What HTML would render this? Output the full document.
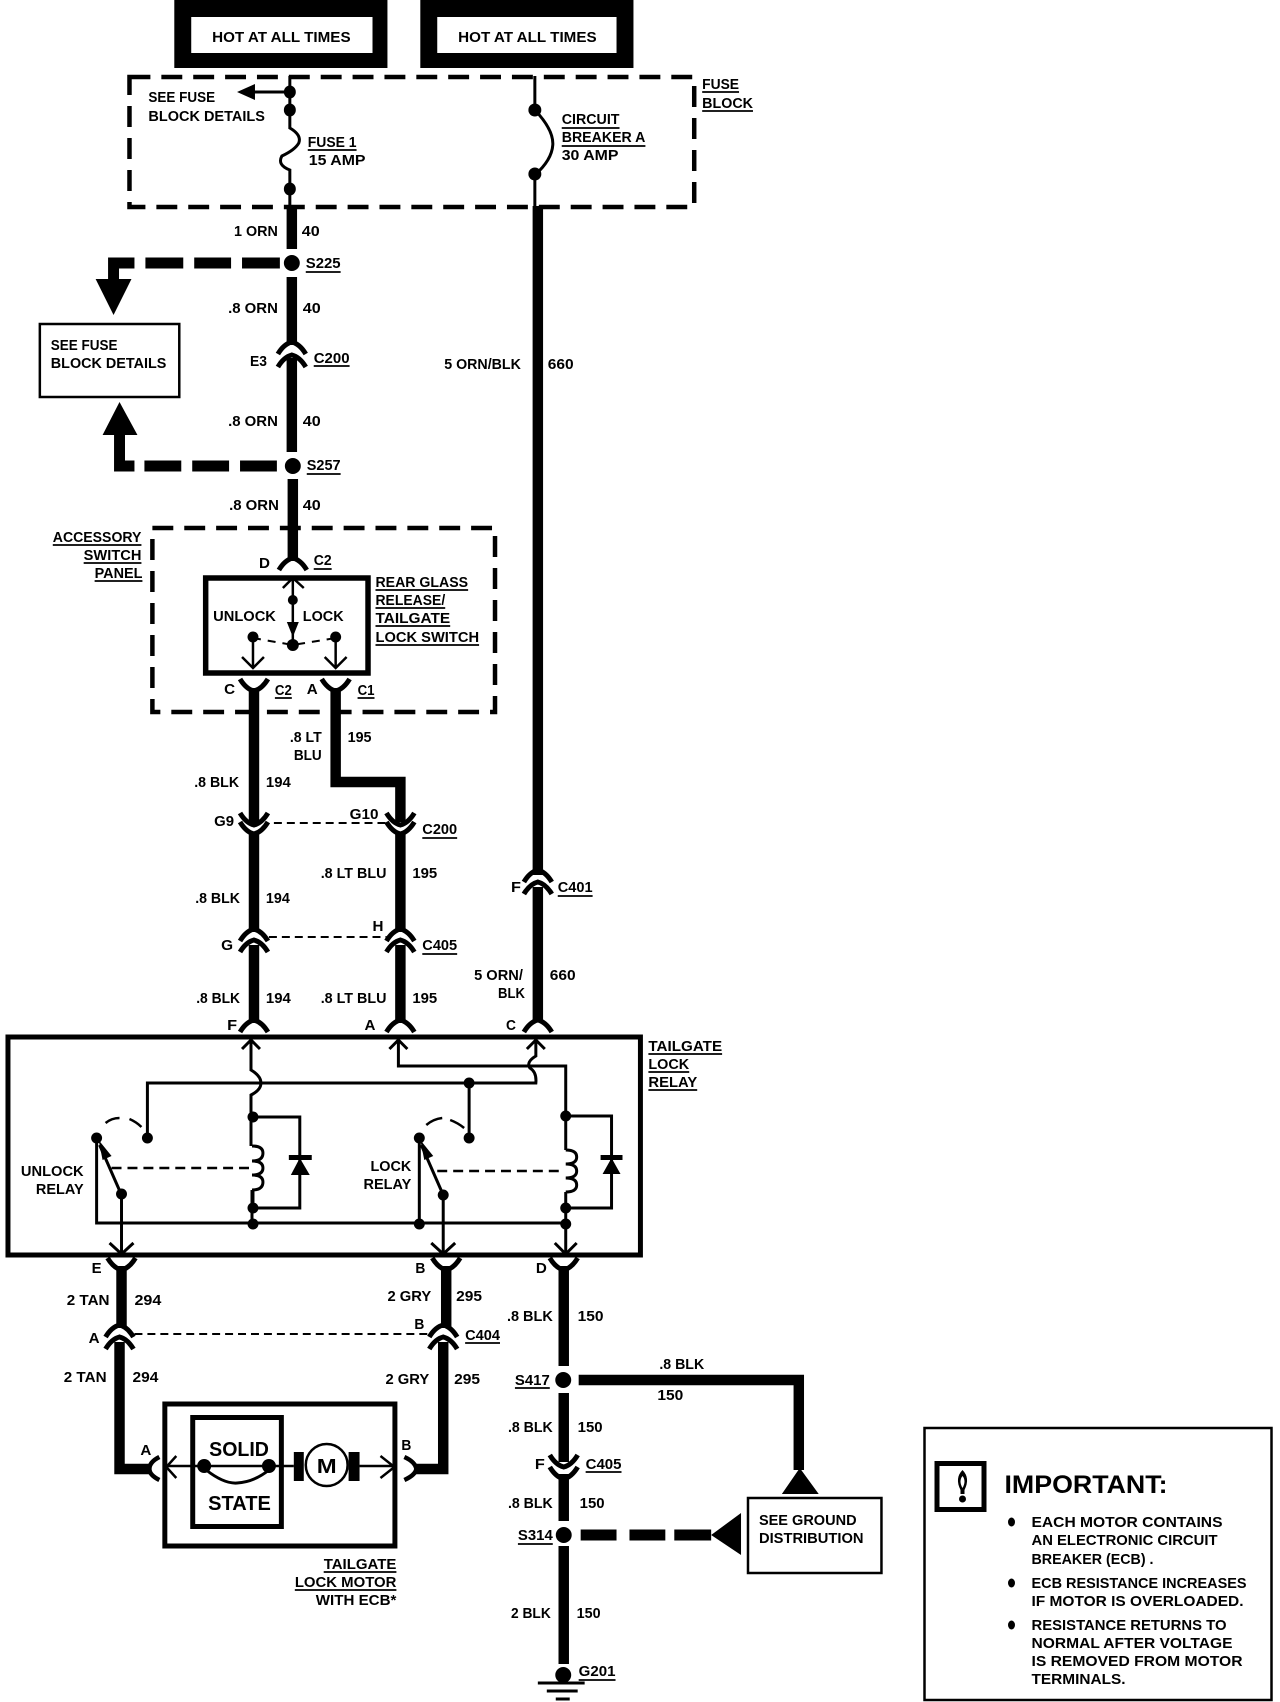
<!DOCTYPE html>
<html><head><meta charset="utf-8"><style>
html,body{margin:0;padding:0;background:#fff}
svg{display:block}
text{font-family:"Liberation Sans",sans-serif;font-weight:bold;font-size:15px;fill:#000}
.w{fill:none;stroke:#000;stroke-linejoin:miter}
</style></head><body>
<svg width="1280" height="1702" viewBox="0 0 1280 1702" xmlns="http://www.w3.org/2000/svg">
<defs>
<path id="a" d="M-14,7 Q-8,-3 0,-5 Q8,-3 14,7" fill="none" stroke="#000" stroke-width="5"/>
<path id="v" d="M-14,-7 Q-8,3 0,5 Q8,3 14,-7" fill="none" stroke="#000" stroke-width="5"/>
</defs>
<rect width="1280" height="1702" fill="#fff"/>
<g transform="matrix(.996 0 0 1 0 0)">

<!-- hot boxes -->
<rect x="175" y="0" width="214" height="68"/><rect x="192" y="17" width="182" height="36" fill="#fff"/>
<rect x="422" y="0" width="214" height="68"/><rect x="439" y="17" width="180" height="36" fill="#fff"/>

<!-- fuse block -->
<rect x="130" y="77" width="567" height="130" class="w" stroke-width="4.5" stroke-dasharray="21 11"/>
<path class="w" stroke-width="3" d="M291,76V128Q303,135 300,143Q296,150 283,156Q278,165 291,170V208M291,92H254M537,76V110Q556,130 555,145Q554,160 537,175V208"/>
<path d="M238,92L256,84V100Z"/>
<g><ellipse cx="291" cy="92" rx="6" ry="6.5"/><ellipse cx="291" cy="110" rx="6" ry="6.5"/><ellipse cx="291" cy="189" rx="6" ry="6.5"/><ellipse cx="537" cy="110" rx="6.5" ry="6.5"/><ellipse cx="537" cy="174" rx="6.5" ry="6.5"/></g>

<!-- heavy wires -->
<path class="w" stroke-width="10.500" d="M293,206V249M293,277V345M293,358V452M294,479V561M540,206V875M540,887V1022
M255,688V824M255,832V932M255,945V1023M337,688V782H402V822M402,832V932M402,945V1023
M122,1266V1328M120,1342V1469H152M448,1266V1328M445,1342V1469H416
M566,1266V1366M566,1393V1462M566,1474V1521M566,1546V1664M581,1380H802V1470"/>
<path class="w" stroke-width="11" d="M135,263H114V280M281,263H243M232,263H195M184,263H146M120,435V466H135M278,466H241M230,466H193M182,466H145M583,1535H619M632,1535H668M677,1535H714"/>
<path d="M96,279H132L114,315ZM120,402L138,435H103ZM803,1468L822,1494H785ZM714,1535L744,1513V1555Z"/>
<circle cx="293" cy="263" r="8"/><circle cx="294" cy="466" r="8"/><circle cx="565.500" cy="1380" r="8"/><circle cx="566" cy="1535" r="8"/><circle cx="565.500" cy="1675" r="8"/>
<path class="w" stroke-width="3" d="M540,1683H587M549,1691H580M558,1699H572"/>

<!-- connectors -->
<use href="#a" x="293" y="347"/><use href="#a" x="293" y="360"/>
<use href="#a" x="294" y="563"/>
<use href="#v" x="255" y="686"/><use href="#v" x="337" y="686"/>
<use href="#v" x="255" y="820"/><use href="#v" x="255" y="829"/><use href="#v" x="402" y="820"/><use href="#v" x="402" y="829"/>
<use href="#a" x="255" y="934"/><use href="#a" x="255" y="945"/><use href="#a" x="402" y="934"/><use href="#a" x="402" y="945"/>
<use href="#a" x="540" y="875"/><use href="#a" x="540" y="887"/>
<use href="#a" x="255" y="1025"/><use href="#a" x="402" y="1025"/><use href="#a" x="540" y="1025"/>
<use href="#v" x="122" y="1265"/><use href="#v" x="448" y="1265"/><use href="#v" x="566" y="1265"/>
<use href="#a" x="120" y="1330"/><use href="#a" x="120" y="1342"/><use href="#a" x="445" y="1330"/><use href="#a" x="445" y="1342"/>
<use href="#v" x="566" y="1462"/><use href="#v" x="566" y="1474"/>
<path class="w" stroke-width="4.500" d="M160,1457Q150,1462 150,1469Q150,1475 160,1480M406,1457Q417,1462 418,1469Q417,1475 406,1480"/>

<!-- splice dashes between connectors -->
<path class="w" stroke-width="2" stroke-dasharray="8 5" d="M275,823H388M270,937H388M135,1334H430"/>

<!-- accessory panel -->
<rect x="153" y="528" width="344" height="184" class="w" stroke-width="4.5" stroke-dasharray="21 11"/>
<rect x="206.500" y="578" width="163" height="95" fill="#fff" class="w" stroke-width="5.500"/>
<path class="w" stroke-width="2.500" d="M294,578V645M284,588L294,578L305,588M254,637V668M243,657L254,668L265,657M337,637V668M326,657L337,668L348,657"/>
<path d="M288,622H300L294,637Z"/>
<path class="w" stroke-width="2" stroke-dasharray="8 7" d="M254,638L294,645L337,638"/>
<circle cx="294" cy="600" r="5"/><circle cx="294" cy="645" r="6"/><circle cx="254" cy="637" r="5.500"/><circle cx="337" cy="637" r="5.500"/>

<!-- see fuse box -->
<rect x="40" y="324" width="140" height="73" fill="none" stroke="#000" stroke-width="2.500"/>

<!-- relay -->
<rect x="8" y="1037" width="635" height="218" class="w" stroke-width="5"/>
<path class="w" stroke-width="3" d="M252,1040V1070Q262,1076 262,1083Q262,1090 252,1095V1117V1146
M243,1049L252,1040L261,1049M400,1040V1066H568V1116V1150M391,1049L400,1040L409,1049
M538,1040V1056Q528,1062 532,1068Q539,1072 538,1083H148V1138M529,1049L538,1040L547,1049M471,1083V1138
M253,1117H301V1208H254V1190M97,1138V1223H568V1253M253,1190V1224M421,1138V1224
M100,1145L122,1195V1253M110,1243L122,1254L134,1243M423,1145L445,1195V1253M433,1243L445,1254L457,1243M557,1243L568,1254L579,1243
M568,1116H614V1208H568M568,1192V1224"/>
<path class="w" stroke-width="3" d="M253,1146Q264,1146 264,1153Q264,1161 253,1161Q264,1161 264,1168Q264,1175 253,1175Q264,1175 264,1182Q264,1190 253,1190"/>
<path class="w" stroke-width="3" d="M568,1150Q579,1150 579,1157Q579,1164 568,1164Q579,1164 579,1171Q579,1178 568,1178Q579,1178 579,1185Q579,1192 568,1192"/>
<path class="w" stroke-width="2.500" stroke-dasharray="10 6" d="M112,1168H250M439,1171H566"/>
<path class="w" stroke-width="2.500" d="M106,1123Q112,1118 120,1118M130,1119Q137,1122 142,1127M428,1125Q435,1119 444,1118M452,1120Q460,1123 466,1128"/>
<path d="M99,1140L112,1156L103,1160ZM422,1140L435,1156L426,1160Z"/>
<path d="M301,1158L311,1175H292ZM614,1158L623,1174H605ZM290,1155H313V1160H290ZM603,1155H625V1160H603Z"/>
<g><circle cx="254" cy="1117" r="5.500"/><circle cx="254" cy="1208" r="5.500"/><circle cx="254" cy="1224" r="5.500"/><circle cx="421" cy="1224" r="5.500"/><circle cx="568" cy="1224" r="5.500"/><circle cx="568" cy="1116" r="5.500"/><circle cx="568" cy="1208" r="5.500"/><circle cx="148" cy="1138" r="5.500"/><circle cx="471" cy="1083" r="5.500"/><circle cx="471" cy="1138" r="5.500"/><circle cx="97" cy="1138" r="5.500"/><circle cx="421" cy="1138" r="5.500"/><circle cx="122" cy="1194" r="5.500"/><circle cx="445" cy="1195" r="5.500"/></g>

<!-- motor -->
<rect x="165.500" y="1404" width="231" height="142" fill="#fff" class="w" stroke-width="5"/>
<rect x="193.500" y="1417.500" width="89" height="109" class="w" stroke-width="5"/>
<path class="w" stroke-width="2.500" d="M168,1466H295M361,1466H397M177,1456L167,1467L177,1478M382,1456L396,1467L382,1478"/>
<path class="w" stroke-width="3" d="M207,1470Q225,1484 238,1483Q255,1482 270,1470"/>
<circle cx="205" cy="1466" r="7"/><circle cx="270" cy="1466" r="7"/>
<rect x="295" y="1452" width="10" height="29"/><rect x="350" y="1452" width="11" height="29"/>
<circle cx="328" cy="1465" r="21" fill="#fff" stroke="#000" stroke-width="2.500"/>

<!-- ground box -->
<rect x="751" y="1498" width="134" height="75" fill="#fff" stroke="#000" stroke-width="2.500"/>

<!-- underlines -->
<path class="w" stroke-width="1.700" d="M309,150H358M564,128H622M564,146H648M705,92H742M705,111H756M307,272H342M308,474H342M315,366H351
M53,545H142M84,563H142M95,581H143M315,569H333M377,590H470M377,608H447M377,626H452M377,645H481M276,698H293M359,698H376
M424,838H459M424,954H459M560,896H595M651,1054H725M651,1072H692M651,1090H700M467,1343H502M325,1572H398M296,1590H398
M517,1388H552M520,1544H555M581,1680H618M588,1472H624"/>

<!-- labels -->
<g>
<text x="213" y="42" textLength="139" lengthAdjust="spacingAndGlyphs">HOT AT ALL TIMES</text>
<text x="460" y="42" textLength="139" lengthAdjust="spacingAndGlyphs">HOT AT ALL TIMES</text>
<text x="149" y="102" textLength="67" lengthAdjust="spacingAndGlyphs">SEE FUSE</text>
<text x="149" y="121" textLength="117" lengthAdjust="spacingAndGlyphs">BLOCK DETAILS</text>
<text x="309" y="147" textLength="49" lengthAdjust="spacingAndGlyphs">FUSE 1</text>
<text x="310" y="165" textLength="57" lengthAdjust="spacingAndGlyphs">15 AMP</text>
<text x="564" y="124" textLength="58" lengthAdjust="spacingAndGlyphs">CIRCUIT</text>
<text x="564" y="142" textLength="84" lengthAdjust="spacingAndGlyphs">BREAKER A</text>
<text x="564" y="160" textLength="57" lengthAdjust="spacingAndGlyphs">30 AMP</text>
<text x="705" y="89" textLength="37" lengthAdjust="spacingAndGlyphs">FUSE</text>
<text x="705" y="108" textLength="51" lengthAdjust="spacingAndGlyphs">BLOCK</text>
<text x="235" y="236" textLength="44" lengthAdjust="spacingAndGlyphs">1 ORN</text>
<text x="303" y="236" textLength="18" lengthAdjust="spacingAndGlyphs">40</text>
<text x="307" y="268" textLength="35" lengthAdjust="spacingAndGlyphs">S225</text>
<text x="229" y="313" textLength="50" lengthAdjust="spacingAndGlyphs">.8 ORN</text>
<text x="304" y="313" textLength="18" lengthAdjust="spacingAndGlyphs">40</text>
<text x="51" y="350" textLength="67" lengthAdjust="spacingAndGlyphs">SEE FUSE</text>
<text x="51" y="368" textLength="116" lengthAdjust="spacingAndGlyphs">BLOCK DETAILS</text>
<text x="251" y="366" textLength="17" lengthAdjust="spacingAndGlyphs">E3</text>
<text x="315" y="363" textLength="36" lengthAdjust="spacingAndGlyphs">C200</text>
<text x="446" y="369" textLength="77" lengthAdjust="spacingAndGlyphs">5 ORN/BLK</text>
<text x="550" y="369" textLength="26" lengthAdjust="spacingAndGlyphs">660</text>
<text x="229" y="426" textLength="50" lengthAdjust="spacingAndGlyphs">.8 ORN</text>
<text x="304" y="426" textLength="18" lengthAdjust="spacingAndGlyphs">40</text>
<text x="308" y="470" textLength="34" lengthAdjust="spacingAndGlyphs">S257</text>
<text x="230" y="510" textLength="50" lengthAdjust="spacingAndGlyphs">.8 ORN</text>
<text x="304" y="510" textLength="18" lengthAdjust="spacingAndGlyphs">40</text>
<text x="53" y="542" textLength="89" lengthAdjust="spacingAndGlyphs">ACCESSORY</text>
<text x="84" y="560" textLength="58" lengthAdjust="spacingAndGlyphs">SWITCH</text>
<text x="95" y="578" textLength="48" lengthAdjust="spacingAndGlyphs">PANEL</text>
<text x="260" y="568" textLength="11" lengthAdjust="spacingAndGlyphs">D</text>
<text x="315" y="565" textLength="18" lengthAdjust="spacingAndGlyphs">C2</text>
<text x="377" y="587" textLength="93" lengthAdjust="spacingAndGlyphs">REAR GLASS</text>
<text x="377" y="605" textLength="70" lengthAdjust="spacingAndGlyphs">RELEASE/</text>
<text x="377" y="623" textLength="75" lengthAdjust="spacingAndGlyphs">TAILGATE</text>
<text x="377" y="642" textLength="104" lengthAdjust="spacingAndGlyphs">LOCK SWITCH</text>
<text x="214" y="621" textLength="63" lengthAdjust="spacingAndGlyphs">UNLOCK</text>
<text x="304" y="621" textLength="41" lengthAdjust="spacingAndGlyphs">LOCK</text>
<text x="225" y="694" textLength="11" lengthAdjust="spacingAndGlyphs">C</text>
<text x="276" y="695" textLength="17" lengthAdjust="spacingAndGlyphs">C2</text>
<text x="308" y="694" textLength="11" lengthAdjust="spacingAndGlyphs">A</text>
<text x="359" y="695" textLength="17" lengthAdjust="spacingAndGlyphs">C1</text>
<text x="291" y="742" textLength="32" lengthAdjust="spacingAndGlyphs">.8 LT</text>
<text x="295" y="760" textLength="28" lengthAdjust="spacingAndGlyphs">BLU</text>
<text x="349" y="742" textLength="24" lengthAdjust="spacingAndGlyphs">195</text>
<text x="195" y="787" textLength="45" lengthAdjust="spacingAndGlyphs">.8 BLK</text>
<text x="267" y="787" textLength="25" lengthAdjust="spacingAndGlyphs">194</text>
<text x="215" y="826" textLength="20" lengthAdjust="spacingAndGlyphs">G9</text>
<text x="351" y="819" textLength="29" lengthAdjust="spacingAndGlyphs">G10</text>
<text x="424" y="834" textLength="35" lengthAdjust="spacingAndGlyphs">C200</text>
<text x="322" y="878" textLength="66" lengthAdjust="spacingAndGlyphs">.8 LT BLU</text>
<text x="414" y="878" textLength="25" lengthAdjust="spacingAndGlyphs">195</text>
<text x="196" y="903" textLength="45" lengthAdjust="spacingAndGlyphs">.8 BLK</text>
<text x="267" y="903" textLength="24" lengthAdjust="spacingAndGlyphs">194</text>
<text x="513" y="892" textLength="10" lengthAdjust="spacingAndGlyphs">F</text>
<text x="560" y="892" textLength="35" lengthAdjust="spacingAndGlyphs">C401</text>
<text x="374" y="931" textLength="11" lengthAdjust="spacingAndGlyphs">H</text>
<text x="222" y="950" textLength="12" lengthAdjust="spacingAndGlyphs">G</text>
<text x="424" y="950" textLength="35" lengthAdjust="spacingAndGlyphs">C405</text>
<text x="476" y="980" textLength="49" lengthAdjust="spacingAndGlyphs">5 ORN/</text>
<text x="500" y="998" textLength="27" lengthAdjust="spacingAndGlyphs">BLK</text>
<text x="552" y="980" textLength="26" lengthAdjust="spacingAndGlyphs">660</text>
<text x="197" y="1003" textLength="44" lengthAdjust="spacingAndGlyphs">.8 BLK</text>
<text x="267" y="1003" textLength="25" lengthAdjust="spacingAndGlyphs">194</text>
<text x="322" y="1003" textLength="66" lengthAdjust="spacingAndGlyphs">.8 LT BLU</text>
<text x="414" y="1003" textLength="25" lengthAdjust="spacingAndGlyphs">195</text>
<text x="228" y="1030" textLength="10" lengthAdjust="spacingAndGlyphs">F</text>
<text x="366" y="1030" textLength="11" lengthAdjust="spacingAndGlyphs">A</text>
<text x="508" y="1030" textLength="10" lengthAdjust="spacingAndGlyphs">C</text>
<text x="651" y="1051" textLength="74" lengthAdjust="spacingAndGlyphs">TAILGATE</text>
<text x="651" y="1069" textLength="41" lengthAdjust="spacingAndGlyphs">LOCK</text>
<text x="651" y="1087" textLength="49" lengthAdjust="spacingAndGlyphs">RELAY</text>
<text x="21" y="1176" textLength="63" lengthAdjust="spacingAndGlyphs">UNLOCK</text>
<text x="36" y="1194" textLength="48" lengthAdjust="spacingAndGlyphs">RELAY</text>
<text x="372" y="1171" textLength="41" lengthAdjust="spacingAndGlyphs">LOCK</text>
<text x="365" y="1189" textLength="48" lengthAdjust="spacingAndGlyphs">RELAY</text>
<text x="92" y="1273" textLength="10" lengthAdjust="spacingAndGlyphs">E</text>
<text x="417" y="1273" textLength="10" lengthAdjust="spacingAndGlyphs">B</text>
<text x="538" y="1273" textLength="11" lengthAdjust="spacingAndGlyphs">D</text>
<text x="67" y="1305" textLength="43" lengthAdjust="spacingAndGlyphs">2 TAN</text>
<text x="135" y="1305" textLength="27" lengthAdjust="spacingAndGlyphs">294</text>
<text x="389" y="1301" textLength="44" lengthAdjust="spacingAndGlyphs">2 GRY</text>
<text x="458" y="1301" textLength="26" lengthAdjust="spacingAndGlyphs">295</text>
<text x="509" y="1321" textLength="46" lengthAdjust="spacingAndGlyphs">.8 BLK</text>
<text x="580" y="1321" textLength="26" lengthAdjust="spacingAndGlyphs">150</text>
<text x="89" y="1343" textLength="11" lengthAdjust="spacingAndGlyphs">A</text>
<text x="416" y="1329" textLength="10" lengthAdjust="spacingAndGlyphs">B</text>
<text x="467" y="1340" textLength="35" lengthAdjust="spacingAndGlyphs">C404</text>
<text x="64" y="1382" textLength="43" lengthAdjust="spacingAndGlyphs">2 TAN</text>
<text x="133" y="1382" textLength="26" lengthAdjust="spacingAndGlyphs">294</text>
<text x="387" y="1384" textLength="44" lengthAdjust="spacingAndGlyphs">2 GRY</text>
<text x="456" y="1384" textLength="26" lengthAdjust="spacingAndGlyphs">295</text>
<text x="662" y="1369" textLength="45" lengthAdjust="spacingAndGlyphs">.8 BLK</text>
<text x="660" y="1400" textLength="26" lengthAdjust="spacingAndGlyphs">150</text>
<text x="517" y="1385" textLength="35" lengthAdjust="spacingAndGlyphs">S417</text>
<text x="510" y="1432" textLength="45" lengthAdjust="spacingAndGlyphs">.8 BLK</text>
<text x="580" y="1432" textLength="25" lengthAdjust="spacingAndGlyphs">150</text>
<text x="141" y="1455" textLength="11" lengthAdjust="spacingAndGlyphs">A</text>
<text x="403" y="1450" textLength="10" lengthAdjust="spacingAndGlyphs">B</text>
<text x="537" y="1469" textLength="10" lengthAdjust="spacingAndGlyphs">F</text>
<text x="588" y="1469" textLength="36" lengthAdjust="spacingAndGlyphs">C405</text>
<text x="510" y="1508" textLength="45" lengthAdjust="spacingAndGlyphs">.8 BLK</text>
<text x="582" y="1508" textLength="25" lengthAdjust="spacingAndGlyphs">150</text>
<text x="520" y="1540" textLength="35" lengthAdjust="spacingAndGlyphs">S314</text>
<text x="513" y="1618" textLength="40" lengthAdjust="spacingAndGlyphs">2 BLK</text>
<text x="579" y="1618" textLength="24" lengthAdjust="spacingAndGlyphs">150</text>
<text x="581" y="1676" textLength="37" lengthAdjust="spacingAndGlyphs">G201</text>
<text x="325" y="1569" textLength="73" lengthAdjust="spacingAndGlyphs">TAILGATE</text>
<text x="296" y="1587" textLength="102" lengthAdjust="spacingAndGlyphs">LOCK MOTOR</text>
<text x="317" y="1605" textLength="81" lengthAdjust="spacingAndGlyphs">WITH ECB*</text>
<text x="762" y="1525" textLength="98" lengthAdjust="spacingAndGlyphs">SEE GROUND</text>
<text x="762" y="1543" textLength="105" lengthAdjust="spacingAndGlyphs">DISTRIBUTION</text>
<text x="210" y="1456" style="font-size:20px" textLength="60" lengthAdjust="spacingAndGlyphs">SOLID</text>
<text x="209" y="1510" style="font-size:20px" textLength="63" lengthAdjust="spacingAndGlyphs">STATE</text>
<text x="318" y="1473" style="font-size:20px" textLength="20" lengthAdjust="spacingAndGlyphs">M</text>
</g>
</g>

<!-- important box -->
<g transform="translate(-2.500 0)">
<rect x="927" y="1428" width="347" height="272" fill="none" stroke="#000" stroke-width="2.500"/>
<rect x="939.500" y="1463.500" width="47" height="46" fill="none" stroke="#000" stroke-width="5"/>
<path d="M965,1470Q957,1478 963,1490V1494H967V1490Q973,1478 965,1470ZM965,1476Q969,1481 965,1488Q961,1481 965,1476Z" fill-rule="evenodd"/>
<circle cx="965" cy="1499" r="3.500"/>
<ellipse cx="1014" cy="1522" rx="3.500" ry="4.500"/><ellipse cx="1014" cy="1583" rx="3.500" ry="4.500"/><ellipse cx="1014" cy="1625" rx="3.500" ry="4.500"/>
<text x="1034" y="1527" textLength="191" lengthAdjust="spacingAndGlyphs">EACH MOTOR CONTAINS</text>
<text x="1034" y="1545" textLength="186" lengthAdjust="spacingAndGlyphs">AN ELECTRONIC CIRCUIT</text>
<text x="1034" y="1564" textLength="122" lengthAdjust="spacingAndGlyphs">BREAKER (ECB) .</text>
<text x="1034" y="1588" textLength="215" lengthAdjust="spacingAndGlyphs">ECB RESISTANCE INCREASES</text>
<text x="1034" y="1606" textLength="212" lengthAdjust="spacingAndGlyphs">IF MOTOR IS OVERLOADED.</text>
<text x="1034" y="1630" textLength="195" lengthAdjust="spacingAndGlyphs">RESISTANCE RETURNS TO</text>
<text x="1034" y="1648" textLength="201" lengthAdjust="spacingAndGlyphs">NORMAL AFTER VOLTAGE</text>
<text x="1034" y="1666" textLength="211" lengthAdjust="spacingAndGlyphs">IS REMOVED FROM MOTOR</text>
<text x="1034" y="1684" textLength="94" lengthAdjust="spacingAndGlyphs">TERMINALS.</text>
<text x="1007" y="1493" style="font-size:25px" textLength="163" lengthAdjust="spacingAndGlyphs">IMPORTANT:</text>
</g>
</svg>
</body></html>
